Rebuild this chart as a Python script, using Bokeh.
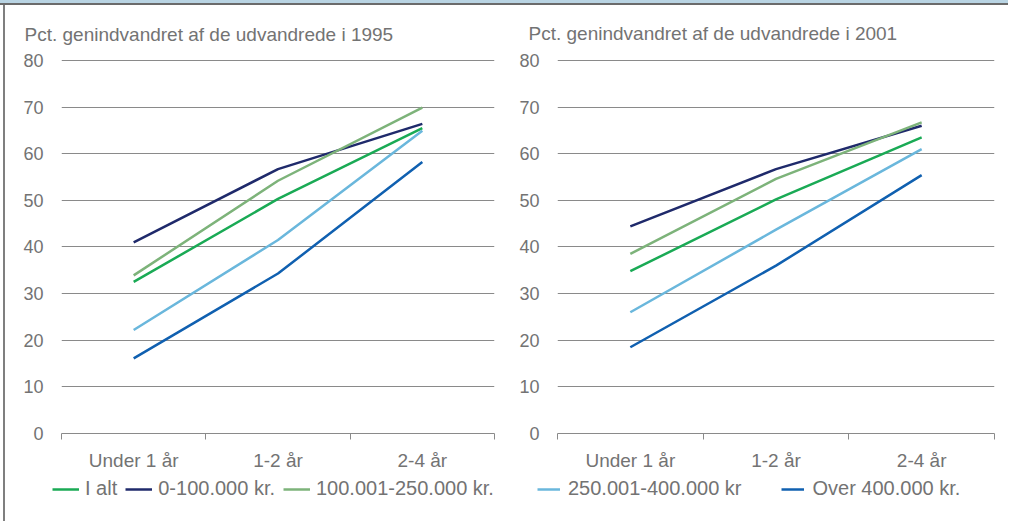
from bokeh.plotting import figure
from bokeh.models import FixedTicker, Legend, LegendItem, Div, Range1d
from bokeh.layouts import row, column
from bokeh.embed import file_html
from bokeh.resources import INLINE

# ---- data ----
categories = ["Under 1 år", "1-2 år", "2-4 år"]
series = ["I alt", "0-100.000 kr.", "100.001-250.000 kr.", "250.001-400.000 kr", "Over 400.000 kr."]
colors = ["#1aaa55", "#1f2a6b", "#7db37a", "#6ab7dc", "#1060b0"]

v1995_i_alt = [32.5, 50.3, 65.5]
v1995_0_100 = [41.0, 56.7, 66.4]
v1995_100_250 = [33.9, 54.2, 69.9]
v1995_250_400 = [22.2, 41.5, 64.9]
v1995_over_400 = [16.1, 34.3, 58.2]

v2001_i_alt = [34.8, 50.2, 63.5]
v2001_0_100 = [44.4, 56.7, 66.0]
v2001_100_250 = [38.5, 54.6, 66.7]
v2001_250_400 = [26.0, 43.7, 61.0]
v2001_over_400 = [18.5, 36.0, 55.4]

y_ticks = [0, 10, 20, 30, 40, 50, 60, 70, 80]

FONT = "Liberation Sans"
TXT = "#737373"
GRID = "#8a8a8a"
FS = "19px"
FS_Y = "18px"
FS_LEG = "20px"
LW = 2.5

xs = [i + 0.5 for i in range(len(categories))]
bounds = [i for i in range(len(categories) + 1)]


def make_panel(title, data, w, h, bl, br, bt, bb, title_offset, title_standoff):
    p = figure(width=w, height=h, output_backend="svg", toolbar_location=None, tools="",
               x_range=Range1d(0, len(categories)), y_range=Range1d(0, 80.2),
               min_border_left=bl, min_border_right=br, min_border_top=bt, min_border_bottom=bb)
    p.outline_line_color = None
    p.border_fill_color = "white"
    p.background_fill_color = "white"

    p.title.text = title
    p.title.align = "left"
    p.title.offset = title_offset
    p.title.text_font = FONT
    p.title.text_font_size = FS
    p.title.text_font_style = "normal"
    p.title.text_color = TXT
    p.title.standoff = title_standoff

    for vals, col in zip(data, colors):
        p.line(xs, vals, line_color=col, line_width=LW)

    ax = p.xaxis[0]
    ax.ticker = FixedTicker(ticks=xs, minor_ticks=bounds)
    ax.major_label_overrides = {x: c for x, c in zip(xs, categories)}
    ax.major_tick_line_color = None
    ax.major_tick_out = 0
    ax.major_tick_in = 0
    ax.minor_tick_in = 0
    ax.minor_tick_out = 6
    ax.minor_tick_line_color = GRID
    ax.axis_line_color = GRID
    ax.axis_line_width = 1
    ax.major_label_standoff = 10
    ax.major_label_text_font = FONT
    ax.major_label_text_font_size = FS
    ax.major_label_text_color = TXT

    ay = p.yaxis[0]
    ay.ticker = FixedTicker(ticks=y_ticks)
    ay.axis_line_color = None
    ay.major_tick_line_color = None
    ay.minor_tick_line_color = None
    ay.major_label_standoff = 12
    ay.major_label_text_font = FONT
    ay.major_label_text_font_size = FS_Y
    ay.major_label_text_color = TXT

    p.xgrid.grid_line_color = None
    p.ygrid.ticker = FixedTicker(ticks=y_ticks)
    p.ygrid.grid_line_color = GRID
    p.ygrid.grid_line_width = 1
    return p


data95 = [v1995_i_alt, v1995_0_100, v1995_100_250, v1995_250_400, v1995_over_400]
data01 = [v2001_i_alt, v2001_0_100, v2001_100_250, v2001_250_400, v2001_over_400]

p1 = make_panel("Pct. genindvandret af de udvandrede i 1995", data95,
                500, 470, 56, 11, 46, 41, -37, 30)
p2 = make_panel("Pct. genindvandret af de udvandrede i 2001", data01,
                505, 470, 52, 16, 43, 42, -29, 31)

# legend strip below both panels (its lines lie outside its own view, only the legend shows)
pl = figure(width=1005, height=46, output_backend="svg", toolbar_location=None, tools="",
            x_axis_type=None, y_axis_type=None, min_border=0,
            x_range=Range1d(0, 0.1), y_range=Range1d(0, 1))
pl.outline_line_color = None
pl.xgrid.grid_line_color = None
pl.ygrid.grid_line_color = None
leg_renderers = [pl.line(xs, vals, line_color=c, line_width=LW) for vals, c in zip(data95, colors)]


def make_legend(idx, loc, gw, standoff, spacing):
    return Legend(items=[LegendItem(label=series[i], renderers=[leg_renderers[i]]) for i in idx],
                  orientation="horizontal", location=loc,
                  glyph_width=gw, glyph_height=20, label_standoff=standoff, spacing=spacing,
                  padding=0, margin=0, border_line_color=None, background_fill_alpha=0,
                  label_text_font=FONT, label_text_font_size=FS_LEG, label_text_color=TXT)


pl.add_layout(make_legend([0, 1, 2], (47, 21), 27, 6, 8))
pl.add_layout(make_legend([3, 4], (532, 21), 23, 8, 40))

# top band: light blue strip with dark grey rule underneath
band = Div(text="", width=1008, height=3, margin=0,
           styles={"background-color": "#b9d4e3", "width": "1008px", "height": "3px", "display": "block"})
band_line = Div(text="", width=1008, height=2, margin=0,
                styles={"background-color": "#6b6b6b", "width": "1008px", "height": "2px", "display": "block"})
left_line = Div(text="", width=2, height=516, margin=(0, 0, 0, 3), styles={"background-color": "#7f7f7f"})

layout = column(band, band_line,
                row(left_line, column(row(p1, p2, spacing=0), pl, spacing=0), spacing=0),
                spacing=0)

open("out.html", "w").write(file_html(layout, INLINE))
